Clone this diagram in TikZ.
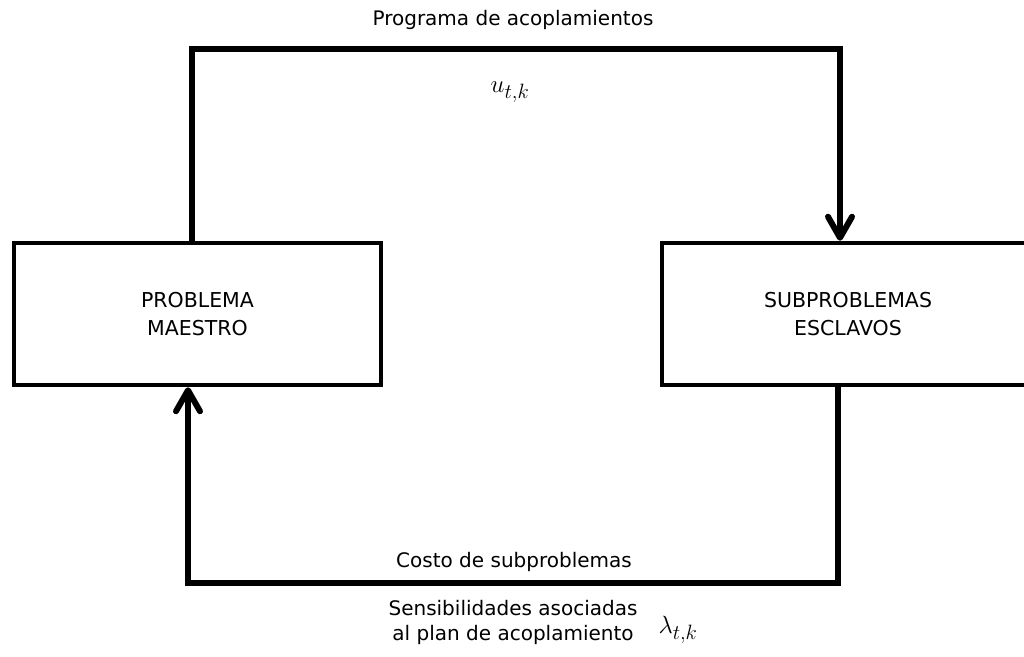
\documentclass[tikz,border=0pt]{standalone}
\usepackage{fontspec}
\setmainfont{DejaVu Sans}
\usetikzlibrary{arrows.meta}

\tikzstyle{bloque} = [rectangle, draw, line width=4.5pt, align=center, font=\fontsize{20.5}{28}\selectfont]
\tikzstyle{flecha} = [line width=6pt, -{Straight Barb[length=21pt,width=24pt,round]}]
\tikzstyle{texto} = [font=\fontsize{20}{25}\selectfont, align=center]
\tikzstyle{simbolo} = [font=\fontsize{30}{30}\selectfont]

\begin{document}
\begin{tikzpicture}[x=1pt,y=-1pt]
\useasboundingbox (0,0) rectangle (1024,656);
\node [bloque, minimum width=367pt, minimum height=142pt] (maestro) at (197.5,314) {PROBLEMA\\MAESTRO};
\node [bloque, minimum width=372pt, minimum height=142pt] (esclavos) at (848,314) {SUBPROBLEMAS\\ESCLAVOS};
\coordinate (arriba) at (192,49);
\coordinate (abajo) at (188,583);
% programa de acoplamientos
\draw [flecha] (maestro.north -| arriba) -- (arriba) -| ([xshift=-8pt]esclavos.north);
% sensibilidades
\draw [flecha] ([xshift=-10pt]esclavos.south) |- (abajo) -- (maestro.south -| abajo);
\node [texto] (programa) at (513,20) {Programa de acoplamientos};
\node [simbolo] (u) at (510,92) {$u_{t,k}$};
\node [texto] (costo) at (514,562) {Costo de subproblemas};
\node [texto] (sensib) at (513,622) {Sensibilidades asociadas\\al plan de acoplamiento};
\node [simbolo] (lambda) at (678,630) {$\lambda_{t,k}$};
\end{tikzpicture}
\end{document}
